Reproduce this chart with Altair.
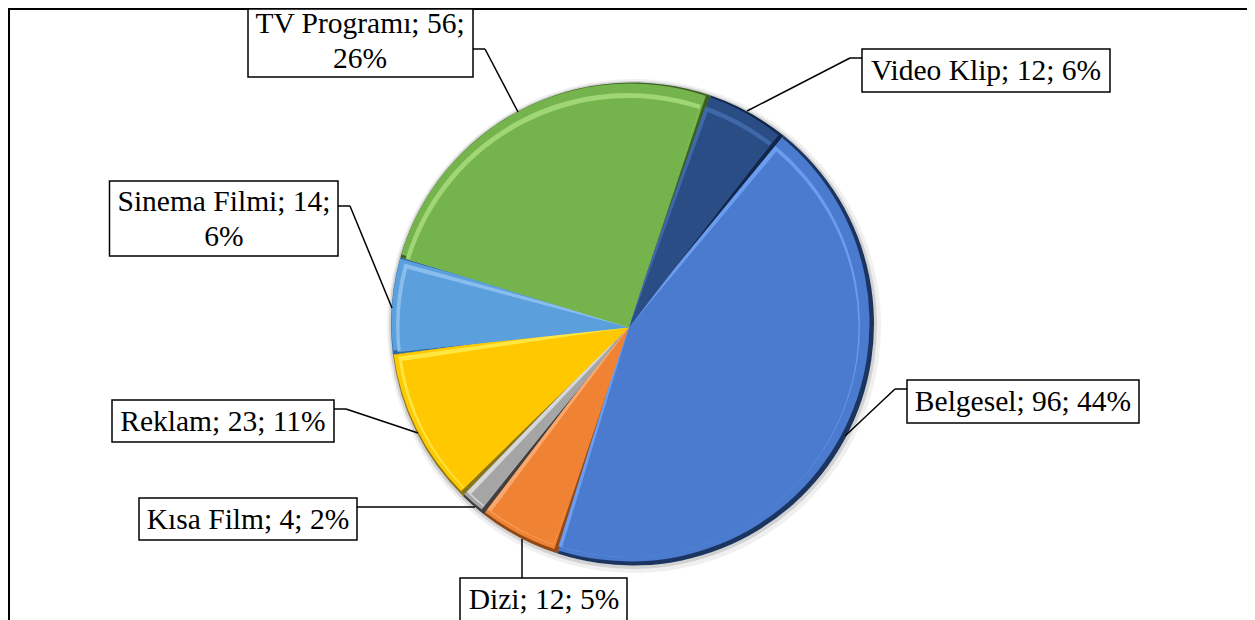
import math
import altair as alt
import pandas as pd

categories = ["Belgesel", "Dizi", "Kısa Film", "Reklam", "Sinema Filmi", "TV Programı", "Video Klip"]
values = [96, 12, 4, 23, 14, 56, 12]
labels = ["Belgesel; 96; 44%", "Dizi; 12; 5%", "Kısa Film; 4; 2%", "Reklam; 23; 11%",
          "Sinema Filmi; 14;\n6%", "TV Programı; 56;\n26%", "Video Klip; 12; 6%"]
main_colors = ["#4a7bce", "#f08234", "#a5a5a5", "#ffc800", "#5b9fdd", "#75b34d", "#2a4d86"]
dark_colors = ["#1c3560", "#8f4a18", "#3f3f3f", "#8a7518", "#2e6aa0", "#3a6024", "#12264a"]
light_colors = ["#6b9cee", "#f9a76c", "#d8d8d8", "#ffe640", "#88bdec", "#a0d676", "#3f68a8"]

df = pd.DataFrame({"idx": range(len(categories)), "category": categories, "value": values,
                   "label": labels, "main": main_colors, "dark": dark_colors, "light": light_colors})


def X(px):
    return alt.value(px - 8)


def Y(py):
    return alt.value(py - 8)


def pie(color_field, radius, cx, cy, pad=0.0, opacity=1.0, fixed=None):
    start = math.radians(38.8)
    enc = dict(
        theta=alt.Theta("value:Q", stack=True, scale=alt.Scale(range=[start, start + 2 * math.pi])),
        order=alt.Order("idx:Q"),
        x=X(cx), y=Y(cy),
    )
    if fixed:
        enc["fill"] = alt.value(fixed)
    else:
        enc["fill"] = alt.Fill(f"{color_field}:N", scale=None)
    return alt.Chart(df).mark_arc(radius=radius, padAngle=pad, opacity=opacity, stroke=None).encode(**enc)


def seg(x1, y1, x2, y2, color="black", width=1.5):
    return (alt.Chart(df.head(1)).mark_rule(color=color, strokeWidth=width)
            .encode(x=X(x1), y=Y(y1), x2=X(x2), y2=Y(y2)))


def callout(cat, box, path, text_xy):
    row = df[df.category == cat]
    x0, y0, x1, y1 = box
    parts = [seg(*path[i], *path[i + 1]) for i in range(len(path) - 1)]
    parts.append(alt.Chart(row).mark_rect(fill="white", stroke="black", strokeWidth=1.5)
                 .encode(x=X(x0), x2=X(x1), y=Y(y0), y2=Y(y1)))
    parts.append(alt.Chart(row).mark_text(font="Liberation Serif", fontSize=29.5, color="black",
                                          align="center", baseline="middle", lineBreak="\n", lineHeight=35)
                 .encode(x=X(text_xy[0]), y=Y(text_xy[1]), text="label:N"))
    return parts


layers = [
    pie("main", 247, 634, 326, opacity=0.06, fixed="#000000"),
    pie("main", 244, 633, 325, opacity=0.12, fixed="#000000"),
    pie("dark", 241.5, 632.5, 324),
    pie("main", 239, 630.5, 322.5, pad=0.018),
    pie("light", 232, 628, 325, pad=0.022),
    pie("main", 229.5, 629, 327.5, pad=0.04),
    seg(8, 9, 1247, 9, width=2),
    seg(9, 9, 9, 620, width=2),
]
layers += callout("TV Programı", (248, 9, 473, 77), [(473, 49), (485, 49), (518, 112)], (360, 24))
layers += callout("Sinema Filmi", (109.5, 181, 338, 256), [(338, 206), (350, 206), (392, 308)], (224, 202))
layers += callout("Video Klip", (862, 49, 1110, 92), [(862, 58), (850, 58), (747, 111)], (986, 71))
layers += callout("Belgesel", (907, 380, 1139, 423), [(907, 389), (895, 389), (845, 436)], (1023, 402))
layers += callout("Reklam", (112, 400, 334, 442), [(334, 409), (346, 409), (418, 433)], (223, 422))
layers += callout("Kısa Film", (139, 498, 357, 540), [(357, 507), (475, 507)], (248, 520))
layers += callout("Dizi", (460, 578, 627, 626), [(522, 578), (522, 539)], (544, 600))

chart = alt.layer(*layers).properties(
    width=1239, height=612, padding=0, autosize=alt.AutoSizeParams(type="none"),
    background="white",
).configure_view(stroke=None)

chart.save("out.html", embed_options={"renderer": "svg", "actions": False})
